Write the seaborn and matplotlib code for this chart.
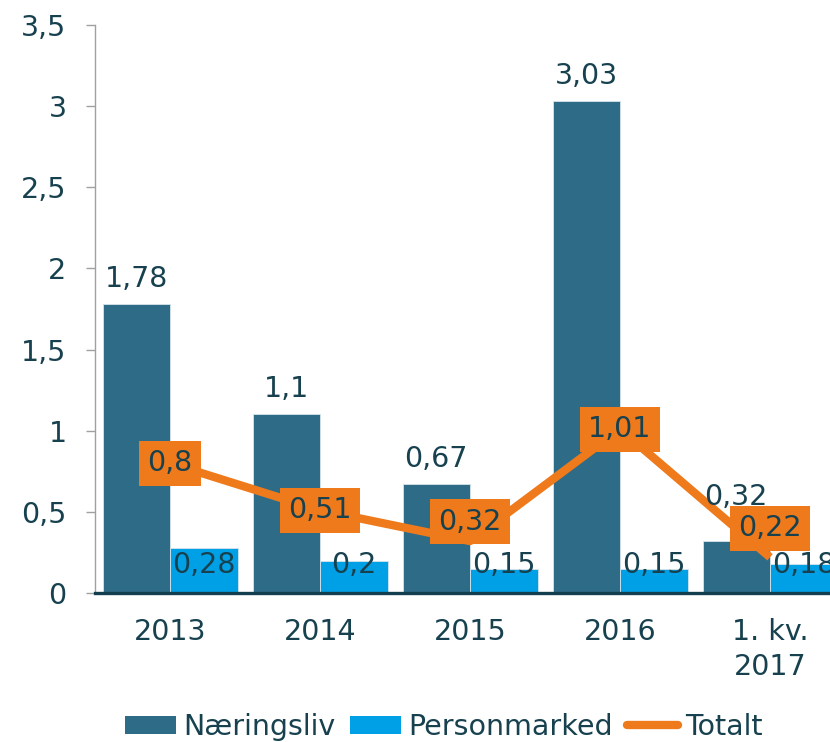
import matplotlib
matplotlib.use("Agg")
import matplotlib.pyplot as plt
import seaborn as sns
import pandas as pd
from matplotlib.patches import Patch
from matplotlib.lines import Line2D

categories = ["2013", "2014", "2015", "2016", "1. kv.\n2017"]
naeringsliv = [1.78, 1.10, 0.67, 3.03, 0.32]
personmarked = [0.28, 0.20, 0.15, 0.15, 0.18]
totalt = [0.80, 0.51, 0.32, 1.01, 0.22]
yticks = [0, 0.5, 1, 1.5, 2, 2.5, 3, 3.5]

def fmt(v):
    s = f"{v:.2f}".rstrip("0").rstrip(".")
    return s.replace(".", ",")

C_DARK = "#2E6B87"
C_LIGHT = "#00A0E6"
C_ORANGE = "#EE7A1C"
C_TEXT = "#17414F"

sns.set_theme(style="white")
plt.rcParams["font.family"] = ["DejaVu Sans"]
FS = 20.5

df = pd.DataFrame({
    "cat": categories * 2,
    "value": naeringsliv + personmarked,
    "series": ["Næringsliv"] * 5 + ["Personmarked"] * 5,
})

fig = plt.figure(figsize=(8.3, 7.42), dpi=100)
ax = fig.add_axes([95 / 830, 149 / 742, 1 - 95 / 830, 568 / 742])

sns.barplot(data=df, x="cat", y="value", hue="series", order=categories,
            palette=[C_DARK, C_LIGHT], width=0.9, ax=ax, legend=False,
            edgecolor="#d8e4ea", linewidth=0.6, saturation=1)

xs = list(range(len(categories)))
ax.plot(xs, totalt, color=C_ORANGE, lw=6, zorder=4, solid_capstyle="butt")

# bar labels
naer_offsets = [0, 0, 0, 0, 14]
for i, v in enumerate(naeringsliv):
    ax.annotate(fmt(v), (i - 0.225, v), xytext=(0, 8 + naer_offsets[i]),
                textcoords="offset points", ha="center", va="bottom",
                fontsize=FS, color=C_TEXT, zorder=5)
for i, v in enumerate(personmarked):
    ax.text(i + 0.225, 0.17, fmt(v), ha="center", va="center",
            fontsize=FS, color=C_TEXT, zorder=5)

label_offsets = [0, 0, 14, 0, 21]
for i, v in enumerate(totalt):
    ax.annotate(fmt(v), (i, v), xytext=(0, label_offsets[i]), textcoords="offset points",
                ha="center", va="center", fontsize=FS, color=C_TEXT, zorder=6,
                bbox=dict(boxstyle="square,pad=0.3", fc=C_ORANGE, ec="none"))

ax.set_xlim(-0.5, 4.4)
ax.set_ylim(0, 3.5)
ax.set_yticks(yticks)
ax.set_yticklabels([fmt(t) for t in yticks], fontsize=FS, color=C_TEXT)
ax.set_xticks(xs)
ax.set_xticklabels(categories, fontsize=FS, color=C_TEXT, linespacing=1.32)
ax.set_xlabel("")
ax.set_ylabel("")
ax.tick_params(axis="y", length=6.5, width=1, color="#A0A0A0", pad=14, left=True)
ax.tick_params(axis="x", length=0, pad=18)

for s in ["top", "right"]:
    ax.spines[s].set_visible(False)
ax.spines["left"].set_color("#A0A0A0")
ax.spines["left"].set_linewidth(1)
ax.spines["bottom"].set_color("#123F4E")
ax.spines["bottom"].set_linewidth(2.4)
ax.spines["bottom"].set_zorder(7)

handles = [Patch(facecolor=C_DARK, edgecolor="none"),
           Patch(facecolor=C_LIGHT, edgecolor="none"),
           Line2D([0], [0], color=C_ORANGE, lw=6, solid_capstyle="round")]
fig.legend(handles, ["Næringsliv", "Personmarked", "Totalt"], loc="center",
           bbox_to_anchor=(0.535, 15 / 742), ncol=3, frameon=False, fontsize=FS,
           handlelength=1.8, handleheight=0.6, handletextpad=0.25, columnspacing=0.5,
           labelcolor=C_TEXT, borderaxespad=0, borderpad=0)

fig.savefig("out.png", dpi=100)
